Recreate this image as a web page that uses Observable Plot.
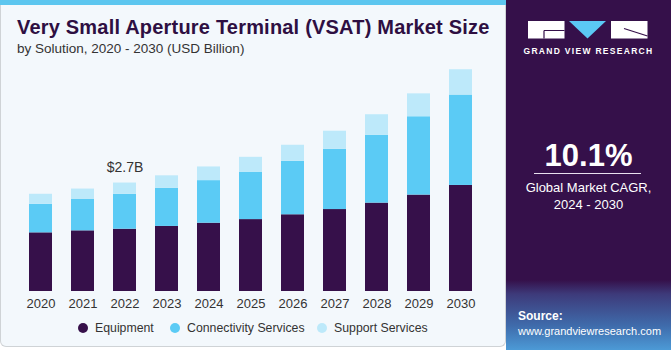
<!DOCTYPE html>
<html>
<head>
<meta charset="utf-8">
<script src="https://cdn.jsdelivr.net/npm/d3@7"></script>
<script src="https://cdn.jsdelivr.net/npm/@observablehq/plot@0.6"></script>
<style>
  html, body { margin: 0; padding: 0; background: #ffffff; }
  body { width: 671px; height: 350px; position: relative; overflow: hidden; font-family: "Liberation Sans", Arial, sans-serif; }
  #left { position: absolute; left: 0; top: 0; width: 504px; height: 346px; background: #f3f8fc;
          border: 1.5px solid #cfd3d6; border-top: none; border-radius: 0 0 6px 6px; }
  #stripe { position: absolute; left: 0; top: 0; width: 506px; height: 5px; background: #5cc6ef; }
  #title { position: absolute; left: 17px; top: 16px; font-size: 20px; font-weight: bold; color: #2e0f42; white-space: nowrap; letter-spacing: 0.2px; }
  #subtitle { position: absolute; left: 17px; top: 41px; font-size: 13.5px; color: #333; white-space: nowrap; }
  #chart { position: absolute; left: 0; top: 55px; }
  #legend { position: absolute; top: 321px; left: 0; font-size: 12.3px; color: #333; }
  .li { position: absolute; white-space: nowrap; display: flex; align-items: center; }
  .dot { width: 10px; height: 10px; border-radius: 50%; display: inline-block; margin-right: 7px; }
  #right { position: absolute; left: 506px; top: 0; width: 165px; height: 350px;
           background: linear-gradient(to bottom, #35104a 0%, #35104a 80%, #3d3a7a 84%, #3f6bab 93%, #4c9ad6 100%); color: #fff; }
  #gvr { position: absolute; left: 0; top: 46px; width: 165px; text-align: center; font-size: 8.5px; font-weight: bold; letter-spacing: 1.3px; color: #fff; }
  #cagr { position: absolute; left: 0; top: 138px; width: 165px; text-align: center; font-size: 31px; font-weight: bold; }
  #rule { position: absolute; left: 28px; top: 173px; width: 107px; height: 1px; background: #e8e0ee; }
  #cagrtxt { position: absolute; left: 0; top: 179px; width: 165px; text-align: center; font-size: 13px; line-height: 17px; }
  #src { position: absolute; left: 12px; top: 309px; font-size: 11px; line-height: 15px; }
  #src b { font-size: 12px; }
</style>
</head>
<body>
<div id="left"></div>
<div id="stripe"></div>
<div id="title">Very Small Aperture Terminal (VSAT) Market Size</div>
<div id="subtitle">by Solution, 2020 - 2030 (USD Billion)</div>
<div id="chart"></div>
<div id="legend"></div>
<div id="right">
  <svg width="165" height="45" style="position:absolute;left:0;top:0">
    <rect x="22" y="21" width="36.5" height="17.5" fill="#fff"/>
    <path d="M38 30.5 H58.5 M38 30.5 V38.5" stroke="#35104a" stroke-width="1.2" fill="none"/>
    <polygon points="63,21 100,21 81.5,38.5" fill="#5bc8f5"/>
    <rect x="105" y="21" width="36.5" height="17.5" fill="#fff"/>
    <path d="M118 28.5 L141.5 36" stroke="#35104a" stroke-width="1.2" fill="none"/>
  </svg>
  <div id="gvr">GRAND VIEW RESEARCH</div>
  <div id="cagr">10.1%</div>
  <div id="rule"></div>
  <div id="cagrtxt">Global Market CAGR,<br>2024 - 2030</div>
  <div id="src"><b>Source:</b><br>www.grandviewresearch.com</div>
</div>
<script>
const years = [2020, 2021, 2022, 2023, 2024, 2025, 2026, 2027, 2028, 2029, 2030];
const segments = ["Equipment", "Connectivity Services", "Support Services"];
const equipment    = [1.46, 1.51, 1.55, 1.62, 1.70, 1.79, 1.91, 2.04, 2.20, 2.40, 2.64];
const connectivity = [0.71, 0.78, 0.87, 0.95, 1.06, 1.18, 1.33, 1.50, 1.69, 1.95, 2.25];
const support      = [0.25, 0.26, 0.28, 0.31, 0.34, 0.37, 0.40, 0.45, 0.51, 0.57, 0.63];
const colors = ["#36104a", "#5bcbf5", "#bde9fa"];
const annotations = [{year: 2022, label: "$2.7B"}];

const series = [equipment, connectivity, support];
const data = years.flatMap((year, i) =>
  segments.map((segment, s) => ({year, segment, value: series[s][i]})));
const totals = years.map((year, i) => ({year, total: equipment[i] + connectivity[i] + support[i]}));
const annotData = annotations.map(a => ({...a, total: totals.find(t => t.year === a.year).total}));

const chart = Plot.plot({
  width: 505,
  height: 255,
  marginLeft: 10,
  marginRight: 13,
  marginTop: 3,
  marginBottom: 19,
  style: {background: "transparent", fontFamily: "Liberation Sans, Arial, sans-serif", fontSize: "13px", color: "#333"},
  x: {domain: years, padding: 0.45, tickSize: 0, tickPadding: 7, label: null, tickFormat: d => String(d)},
  y: {domain: [0, 5.8], axis: null},
  color: {domain: segments, range: colors},
  marks: [
    Plot.barY(data, {x: "year", y: "value", fill: "segment"}),
    Plot.text(annotData, {x: "year", y: "total", text: "label", dy: -16, fontSize: 14, fill: "#333"})
  ]
});
document.getElementById("chart").appendChild(chart);

const legendPos = [78, 170, 317];
const legend = document.getElementById("legend");
segments.forEach((s, i) => {
  const el = document.createElement("div");
  el.className = "li";
  el.style.left = legendPos[i] + "px";
  el.innerHTML = `<span class="dot" style="background:${colors[i]}"></span>${s}`;
  legend.appendChild(el);
});
</script>
</body>
</html>
